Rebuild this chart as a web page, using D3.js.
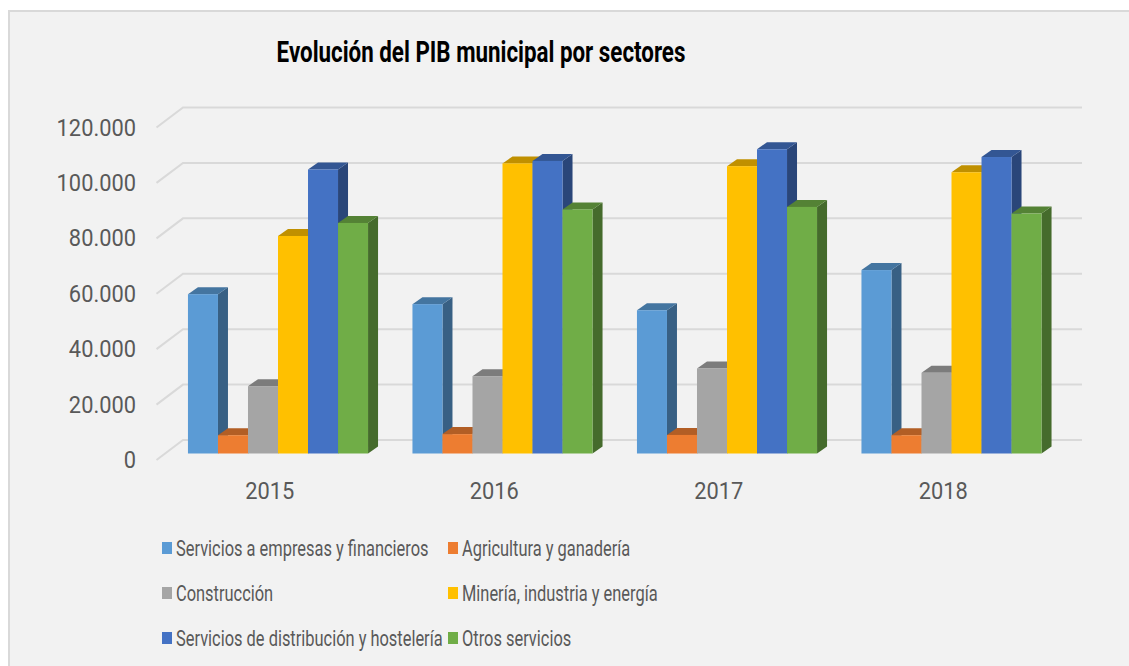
<!DOCTYPE html>
<html>
<head>
<meta charset="utf-8">
<script src="https://cdn.jsdelivr.net/npm/d3@7"></script>
<style>
  html, body { margin: 0; padding: 0; background: #ffffff; }
  svg { display: block; }
</style>
</head>
<body>
<div id="chart"></div>
<script>
// Categories and series
const years = ["2015", "2016", "2017", "2018"];
const seriesNames = [
  "Servicios a empresas y financieros",
  "Agricultura y ganadería",
  "Construcción",
  "Minería, industria y energía",
  "Servicios de distribución y hostelería",
  "Otros servicios"
];
const seriesColors = ["#5B9BD5", "#ED7D31", "#A5A5A5", "#FFC000", "#4472C4", "#70AD47"];

// PIB por sector y año
const serviciosEmpresas   = [57500, 53900, 51700, 66200];
const agricultura         = [6600, 7000, 6700, 6600];
const construccion        = [24300, 27900, 30700, 29100];
const mineriaIndustria    = [78500, 104700, 103700, 101500];
const distribucionHost    = [102500, 105600, 109800, 107000];
const otrosServicios      = [83200, 88100, 89000, 86600];

const yTicks = [0, 20000, 40000, 60000, 80000, 100000, 120000];
const yTickLabels = ["0", "20.000", "40.000", "60.000", "80.000", "100.000", "120.000"];

const seriesValues = [serviciosEmpresas, agricultura, construccion, mineriaIndustria, distribucionHost, otrosServicios];

const W = 1129, H = 666;
const svg = d3.select("#chart").append("svg").attr("width", W).attr("height", H);

// Chart area background and frame
svg.append("rect").attr("x", 8).attr("y", 10).attr("width", W - 8).attr("height", H - 10).attr("fill", "#F2F2F2");
svg.append("line").attr("x1", 8).attr("x2", W).attr("y1", 11).attr("y2", 11).attr("stroke", "#D9D9D9").attr("stroke-width", 2);
svg.append("line").attr("x1", 9).attr("x2", 9).attr("y1", 10).attr("y2", H).attr("stroke", "#D9D9D9").attr("stroke-width", 2);

// Scales on the back wall of the 3D plot
const x0 = d3.scaleBand().domain(years).range([184, 1082]).paddingInner(0).paddingOuter(0);
const x1 = d3.scaleBand().domain(seriesNames).range([0, x0.bandwidth()]).paddingInner(0).paddingOuter(0.74);
const y = d3.scaleLinear().domain([0, 120000]).range([440, 107.5]);

// Perspective offsets
const wallDepth = { dx: 26.5, dy: 20 };   // floor front edge -> back wall
const barDepth = { dx: 10, dy: 7 };       // bar front face -> bar back face
const barShift = { dx: -(wallDepth.dx + barDepth.dx) / 2, dy: (wallDepth.dy + barDepth.dy) / 2 };

// Gridlines: back wall line plus the diagonal on the left side wall
const grid = svg.append("g").attr("stroke", "#D9D9D9").attr("stroke-width", 2).attr("fill", "none");
yTicks.forEach(t => {
  const yy = y(t);
  grid.append("path").attr("d", `M${183 - wallDepth.dx},${yy + wallDepth.dy}L183,${yy}L1082,${yy}`);
});

// Value axis labels, on the front plane
const textScaleNum = 0.95;
const yLabels = svg.append("g").attr("fill", "#595959").attr("font-family", "Roboto, 'DejaVu Sans', sans-serif").attr("font-size", 23);
yTicks.forEach((t, i) => {
  yLabels.append("text")
    .attr("text-anchor", "end")
    .attr("transform", `translate(136,${y(t) + wallDepth.dy + 8}) scale(${textScaleNum},1)`)
    .text(yTickLabels[i]);
});

// Category labels
const xLabels = svg.append("g").attr("fill", "#595959").attr("font-family", "Roboto, 'DejaVu Sans', sans-serif").attr("font-size", 23);
years.forEach(yr => {
  const cx = x0(yr) + x0.bandwidth() / 2 - wallDepth.dx;
  xLabels.append("text")
    .attr("text-anchor", "middle")
    .attr("transform", `translate(${cx},499) scale(${textScaleNum},1)`)
    .text(yr);
});

// 3D columns
const bars = svg.append("g");
years.forEach((yr, yi) => {
  seriesNames.forEach((s, si) => {
    const v = seriesValues[si][yi];
    const base = d3.rgb(seriesColors[si]);
    const fx = x0(yr) + x1(s) + barShift.dx;
    const w = x1.bandwidth();
    const fTop = y(v) + barShift.dy;
    const fBot = y(0) + barShift.dy;
    const dx = barDepth.dx, dy = barDepth.dy;
    const g = bars.append("g");
    // right side face
    g.append("path")
      .attr("d", `M${fx + w},${fTop}L${fx + w + dx},${fTop - dy}L${fx + w + dx},${fBot - dy}L${fx + w},${fBot}Z`)
      .attr("fill", base.darker(1.35).formatHex());
    // top face
    g.append("path")
      .attr("d", `M${fx},${fTop}L${fx + dx},${fTop - dy}L${fx + w + dx},${fTop - dy}L${fx + w},${fTop}Z`)
      .attr("fill", base.darker(0.8).formatHex());
    // front face
    g.append("rect")
      .attr("x", fx).attr("y", fTop).attr("width", w).attr("height", fBot - fTop)
      .attr("fill", base.formatHex());
  });
});

// Title
svg.append("text")
  .attr("text-anchor", "middle")
  .attr("transform", `translate(481,62) scale(0.745,1)`)
  .attr("font-family", "Roboto, 'DejaVu Sans', sans-serif")
  .attr("font-weight", 700)
  .attr("font-size", 30)
  .attr("fill", "#000000")
  .text("Evolución del PIB municipal por sectores");

// Legend: two columns, three rows
const legendCols = [162, 448];
const legendRows = [556, 601, 646];
const legend = svg.append("g").attr("font-family", "Roboto, 'DejaVu Sans', sans-serif").attr("font-size", 22.5).attr("fill", "#595959");
seriesNames.forEach((s, i) => {
  const cx = legendCols[i % 2];
  const by = legendRows[Math.floor(i / 2)];
  legend.append("rect").attr("x", cx).attr("y", by - 14).attr("width", 10).attr("height", 12).attr("fill", seriesColors[i]);
  legend.append("text")
    .attr("transform", `translate(${cx + 14},${by}) scale(0.73,1)`)
    .text(s);
});
</script>
</body>
</html>
